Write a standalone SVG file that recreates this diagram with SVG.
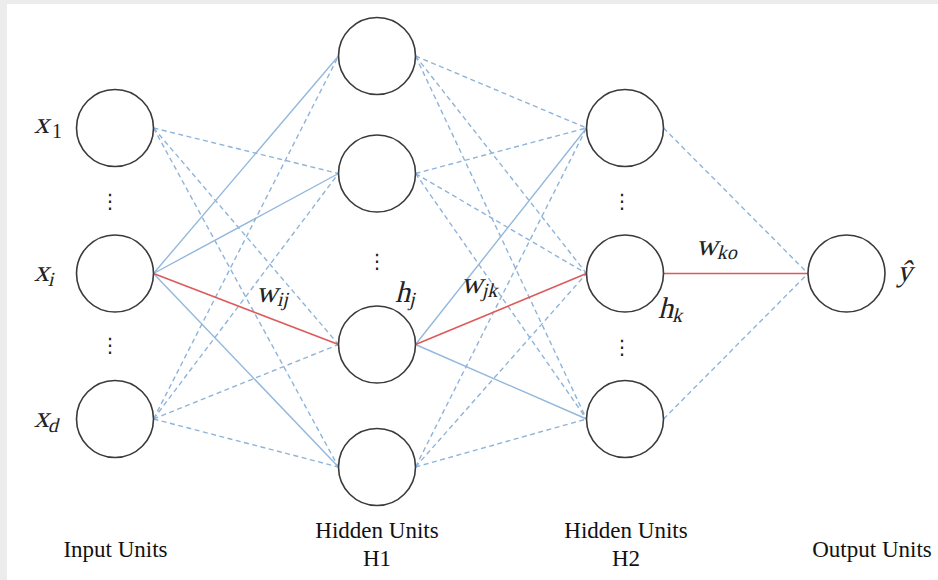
<svg xmlns="http://www.w3.org/2000/svg" width="938" height="580" viewBox="0 0 938 580">
<style>
.node{fill:#fff;stroke:#3a3a3a;stroke-width:1.6}
.s{stroke:#93b8dc;stroke-width:1.4;fill:none}
.d{stroke:#8fb4da;stroke-width:1.4;fill:none;stroke-dasharray:5 3.5}
.r{stroke:#de5a5a;stroke-width:1.6;fill:none}
.m{font-family:"Liberation Serif","Times New Roman",serif;font-size:30px;fill:#222}
.sub{font-size:20px}
.dots{font-family:"DejaVu Sans",sans-serif;font-size:20px;fill:#222;text-anchor:middle}
.lbl{font-family:"Liberation Serif","Times New Roman",serif;font-size:23px;fill:#111;text-anchor:middle}
</style>
<rect x="0" y="0" width="938" height="580" fill="#ececec"/>
<rect x="7" y="4" width="931" height="576" fill="#fff"/>
<g id="connectors">
  <line class="d" x1="153.5" y1="128" x2="338.5" y2="173.5"/>
  <line class="d" x1="153.5" y1="128" x2="338.5" y2="344.5"/>
  <line class="d" x1="153.5" y1="128" x2="338.5" y2="467"/>
  <line class="s" x1="153.5" y1="273.5" x2="338.5" y2="56"/>
  <line class="s" x1="153.5" y1="273.5" x2="338.5" y2="173.5"/>
  <line class="s" x1="153.5" y1="273.5" x2="338.5" y2="467"/>
  <line class="d" x1="153.5" y1="419" x2="338.5" y2="56"/>
  <line class="d" x1="153.5" y1="419" x2="338.5" y2="173.5"/>
  <line class="d" x1="153.5" y1="419" x2="338.5" y2="344.5"/>
  <line class="d" x1="153.5" y1="419" x2="338.5" y2="467"/>
  <line class="d" x1="415.5" y1="56" x2="586.5" y2="128"/>
  <line class="d" x1="415.5" y1="56" x2="586.5" y2="273.5"/>
  <line class="d" x1="415.5" y1="56" x2="586.5" y2="419"/>
  <line class="d" x1="415.5" y1="173.5" x2="586.5" y2="128"/>
  <line class="d" x1="415.5" y1="173.5" x2="586.5" y2="273.5"/>
  <line class="d" x1="415.5" y1="173.5" x2="586.5" y2="419"/>
  <line class="s" x1="415.5" y1="344.5" x2="586.5" y2="128"/>
  <line class="s" x1="415.5" y1="344.5" x2="586.5" y2="419"/>
  <line class="d" x1="415.5" y1="467" x2="586.5" y2="128"/>
  <line class="d" x1="415.5" y1="467" x2="586.5" y2="273.5"/>
  <line class="d" x1="415.5" y1="467" x2="586.5" y2="419"/>
  <line class="d" x1="663.5" y1="128" x2="808" y2="273.5"/>
  <line class="d" x1="663.5" y1="419" x2="808" y2="273.5"/>
  <line class="r" x1="153.5" y1="273.5" x2="338.5" y2="344.5"/>
  <line class="r" x1="415.5" y1="344.5" x2="586.5" y2="273.5"/>
  <line class="r" x1="663.5" y1="273.5" x2="808" y2="273.5"/>
</g>
<g id="x1"><circle class="node" cx="115" cy="128" r="38.5"/><g transform="translate(34,133) skewX(-14)"><text class="m">x</text></g><text class="m sub" x="52" y="138">1</text></g>
<g id="xi"><circle class="node" cx="115" cy="273.5" r="38.5"/><g transform="translate(34,281) skewX(-14)"><text class="m">x<tspan class="sub" dy="5">i</tspan></text></g></g>
<g id="xd"><circle class="node" cx="115" cy="419" r="38.5"/><g transform="translate(34,427) skewX(-14)"><text class="m">x<tspan class="sub" dy="5">d</tspan></text></g></g>
<g id="h1a"><circle class="node" cx="377" cy="56" r="38.5"/></g>
<g id="h1b"><circle class="node" cx="377" cy="173.5" r="38.5"/></g>
<g id="hj"><circle class="node" cx="377" cy="344.5" r="38.5"/><g transform="translate(395,302) skewX(-14)"><text class="m">h<tspan class="sub" dy="4">j</tspan></text></g></g>
<g id="h1d"><circle class="node" cx="377" cy="467" r="38.5"/></g>
<g id="h2a"><circle class="node" cx="625" cy="128" r="38.5"/></g>
<g id="hk"><circle class="node" cx="625" cy="273.5" r="38.5"/><g transform="translate(658,318) skewX(-14)"><text class="m">h<tspan class="sub" dy="4">k</tspan></text></g></g>
<g id="h2c"><circle class="node" cx="625" cy="419" r="38.5"/></g>
<g id="out"><circle class="node" cx="846.5" cy="273.5" r="38.5"/><g transform="translate(897,281) skewX(-14)"><text class="m">ŷ</text></g></g>
<g id="labels">
  <g transform="translate(256,302) skewX(-14)"><text class="m">w<tspan class="sub" dy="4">ij</tspan></text></g>
  <g transform="translate(461,293) skewX(-14)"><text class="m">w<tspan class="sub" dy="4">jk</tspan></text></g>
  <g transform="translate(696,255) skewX(-14)"><text class="m">w<tspan class="sub" dy="4">ko</tspan></text></g>
  <text class="dots" x="110" y="208">⋮</text>
  <text class="dots" x="110" y="352">⋮</text>
  <text class="dots" x="377" y="268">⋮</text>
  <text class="dots" x="622" y="208">⋮</text>
  <text class="dots" x="622" y="354">⋮</text>
  <text class="lbl" x="115.5" y="557">Input Units</text>
  <text class="lbl" x="377" y="538">Hidden Units</text>
  <text class="lbl" x="377" y="566">H1</text>
  <text class="lbl" x="626" y="538">Hidden Units</text>
  <text class="lbl" x="626" y="566">H2</text>
  <text class="lbl" x="872" y="557">Output Units</text>
</g>
</svg>
